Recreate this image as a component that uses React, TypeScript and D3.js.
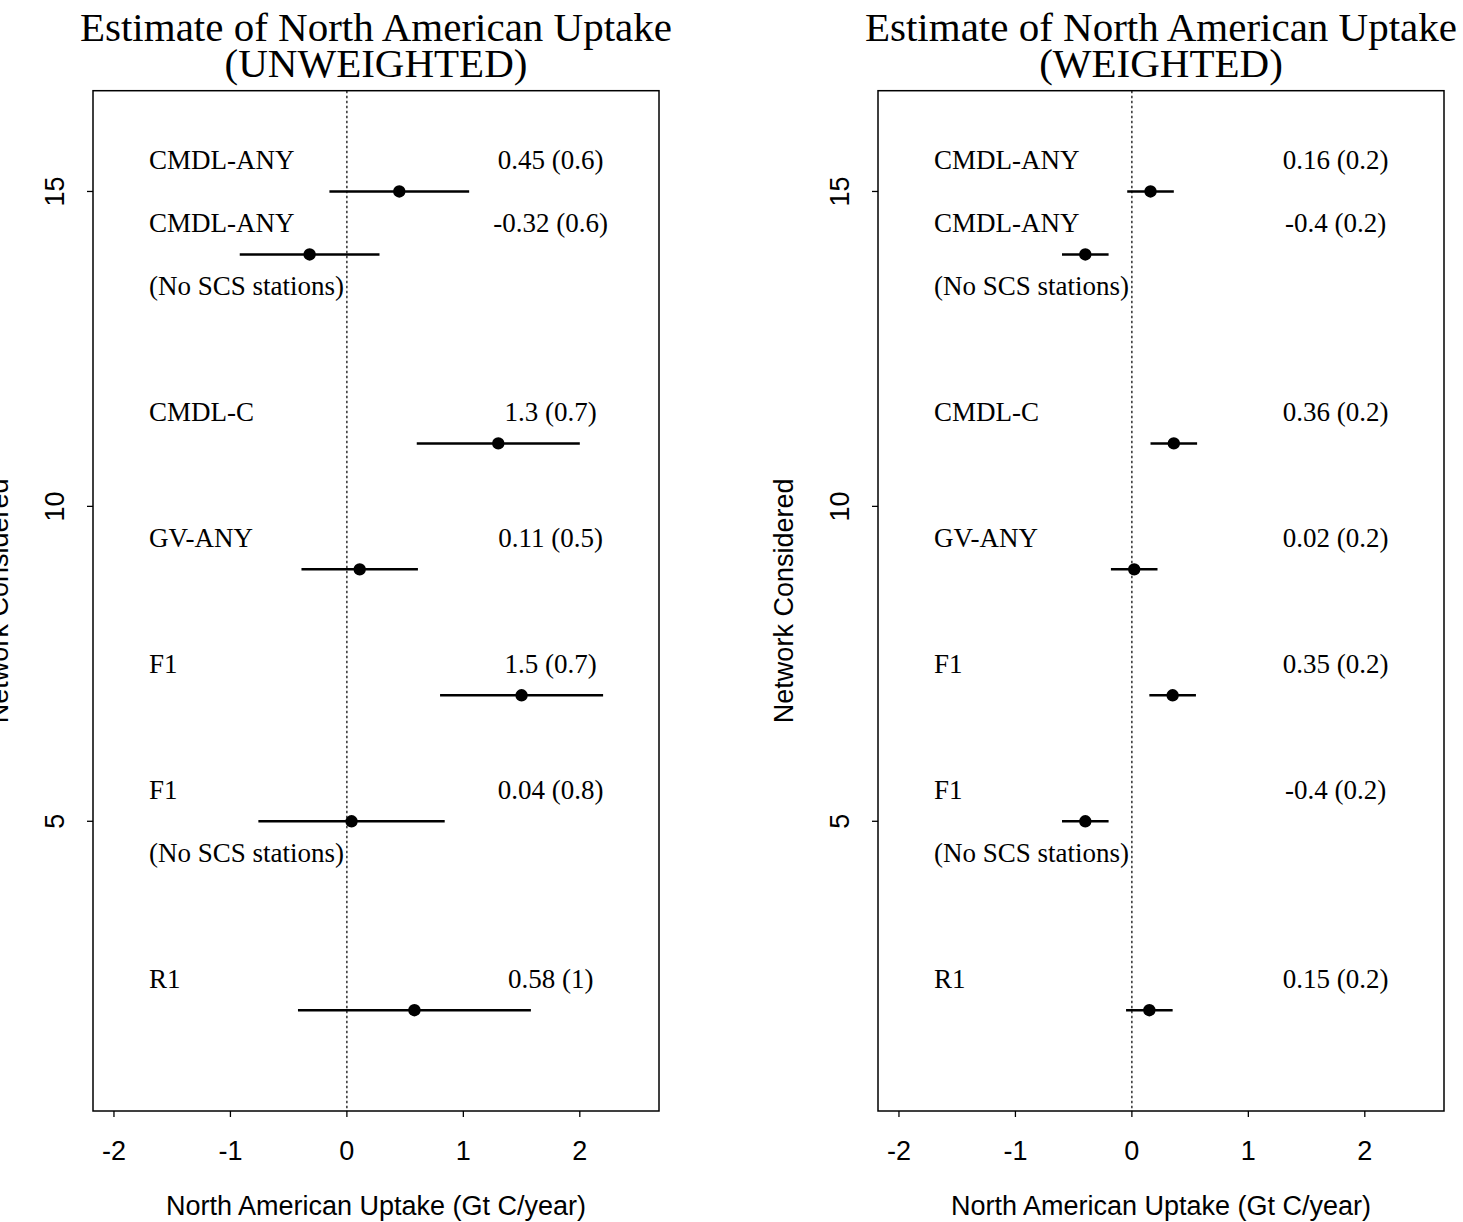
import React from "react";
import * as d3 from "d3";

const networks = ["CMDL-ANY", "CMDL-ANY", "CMDL-C", "GV-ANY", "F1", "F1", "R1"];
const notes = ["", "(No SCS stations)", "", "", "", "(No SCS stations)", ""];
const positions = [15, 14, 11, 9, 7, 5, 2];
const unweightedEst = [0.45, -0.32, 1.3, 0.11, 1.5, 0.04, 0.58];
const unweightedSd = [0.6, 0.6, 0.7, 0.5, 0.7, 0.8, 1];
const weightedEst = [0.16, -0.4, 0.36, 0.02, 0.35, -0.4, 0.15];
const weightedSd = [0.2, 0.2, 0.2, 0.2, 0.2, 0.2, 0.2];
const xTicks = [-2, -1, 0, 1, 2];
const yTicks = [5, 10, 15];
const titles = ["(UNWEIGHTED)", "(WEIGHTED)"];
const mainTitle = "Estimate of North American Uptake";
const xLabel = "North American Uptake (Gt C/year)";
const yLabel = "Network Considered";

const SERIF = "'Liberation Serif', 'Times New Roman', serif";
const SANS = "'Liberation Sans', Arial, Helvetica, sans-serif";

type PanelProps = { left: number; est: number[]; sd: number[]; sub: string };

function Panel({ left, est, sd, sub }: PanelProps) {
  const width = 566;
  const top = 90.7;
  const bottom = 1111;
  const x = d3.scaleLinear().domain([-2.18, 2.68]).range([left, left + width]);
  const y = d3.scaleLinear().domain([0.4, 16.6]).range([bottom, top]);
  const cx = left + width / 2;
  return (
    <g>
      <text x={cx} y={41} textAnchor="middle" fontFamily={SERIF} fontSize={41}>
        {mainTitle}
      </text>
      <text x={cx} y={77} textAnchor="middle" fontFamily={SERIF} fontSize={41}>
        {sub}
      </text>
      <line x1={x(0)} x2={x(0)} y1={top} y2={bottom} stroke="#000" strokeWidth={1.2} strokeDasharray="2.5,2.5" />
      {positions.map((p, i) => (
        <g key={i}>
          <line x1={x(est[i] - sd[i])} x2={x(est[i] + sd[i])} y1={y(p)} y2={y(p)} stroke="#000" strokeWidth={2.5} />
          <circle cx={x(est[i])} cy={y(p)} r={6.2} fill="#000" />
          <text x={x(-1.7)} y={y(p + 0.5)} dy="0.33em" fontFamily={SERIF} fontSize={27}>
            {networks[i]}
          </text>
          <text x={x(1.75)} y={y(p + 0.5)} dy="0.33em" textAnchor="middle" fontFamily={SERIF} fontSize={27}>
            {`${est[i]} (${sd[i]})`}
          </text>
          {notes[i] && (
            <text x={x(-1.7)} y={y(p - 0.5)} dy="0.33em" fontFamily={SERIF} fontSize={27}>
              {notes[i]}
            </text>
          )}
        </g>
      ))}
      <rect x={left} y={top} width={width} height={bottom - top} fill="none" stroke="#000" strokeWidth={1.5} />
      {xTicks.map((t) => (
        <g key={t}>
          <line x1={x(t)} x2={x(t)} y1={bottom} y2={bottom + 6} stroke="#000" strokeWidth={1.3} />
          <text x={x(t)} y={1160} textAnchor="middle" fontFamily={SANS} fontSize={27}>
            {t}
          </text>
        </g>
      ))}
      <text x={cx} y={1215} textAnchor="middle" fontFamily={SANS} fontSize={27}>
        {xLabel}
      </text>
      {yTicks.map((t) => (
        <g key={t}>
          <line x1={left - 6} x2={left} y1={y(t)} y2={y(t)} stroke="#000" strokeWidth={1.3} />
          <text transform={`translate(${left - 29},${y(t)}) rotate(-90)`} textAnchor="middle" fontFamily={SANS} fontSize={27}>
            {t}
          </text>
        </g>
      ))}
      <text transform={`translate(${left - 85},${(top + bottom) / 2}) rotate(-90)`} textAnchor="middle" fontFamily={SANS} fontSize={27}>
        {yLabel}
      </text>
    </g>
  );
}

export default function App() {
  return (
    <svg width={1463} height={1222} style={{ position: "absolute", left: 0, top: 0, background: "#fff" }}>
      <rect width={1463} height={1222} fill="#fff" />
      <Panel left={93} est={unweightedEst} sd={unweightedSd} sub={titles[0]} />
      <Panel left={878} est={weightedEst} sd={weightedSd} sub={titles[1]} />
    </svg>
  );
}
